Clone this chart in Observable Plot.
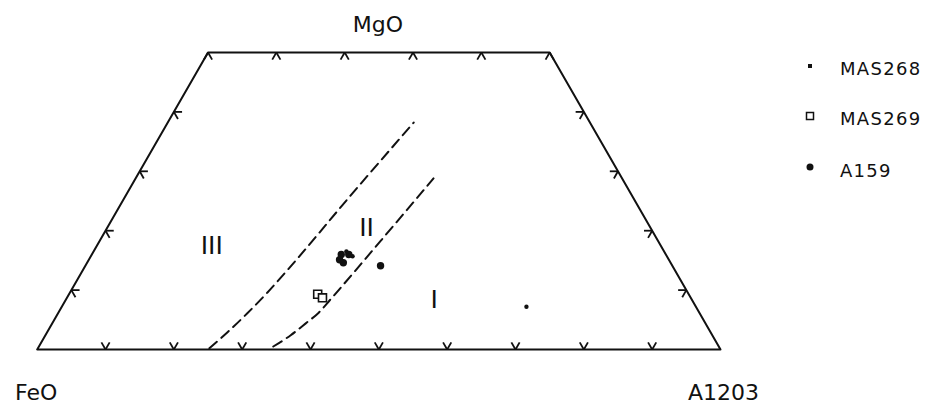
<!DOCTYPE html>
<html>
<head>
<meta charset="utf-8">
<script src="https://cdn.jsdelivr.net/npm/d3@7"></script>
<script src="https://cdn.jsdelivr.net/npm/@observablehq/plot@0.6"></script>
<style>
  body { margin: 0; background: #fff; }
  #wrap { position: relative; width: 933px; height: 405px; font-family: "DejaVu Sans", sans-serif; color: #111; }
  #chart { position: absolute; left: 0; top: 0; }
  .lg-mark { position: absolute; }
  .lg-label { position: absolute; left: 840px; font-size: 18px; line-height: 18px; letter-spacing: 1.3px; white-space: nowrap; }
</style>
</head>
<body>
<div id="wrap"><div id="chart"></div><div id="legend"></div></div>
<script>
// ---- Data (ternary percentages; FeO = 100 - MgO - Al2O3) ----
const apexLabels = ["FeO", "MgO", "A1203"];
const cutMgO = 50;                                   // diagram truncated at 50 % MgO
const bottomTicks = [10, 20, 30, 40, 50, 60, 70, 80, 90]; // Al2O3 % on FeO–Al2O3 base
const topTicks = [0, 10, 20, 30, 40, 50];                 // Al2O3 % along the MgO = 50 cut
const sideTicks = [10, 20, 30, 40];                       // MgO % on both sloping sides

const samples = ["MAS268", "MAS269", "A159"];
const mas268MgO = [16.5, 15.7, 7.2];
const mas268Al2O3 = [37.0, 38.3, 68.0];
const mas269MgO = [9.3, 8.7];
const mas269Al2O3 = [36.4, 37.4];
const a159MgO = [16.0, 16.0, 14.6, 15.1, 14.1];
const a159Al2O3 = [36.5, 37.6, 37.5, 36.7, 43.2];

const lineIIIIIMgO = [0.2, 2.9, 6.1, 9.6, 14.0, 25.9, 38.2];
const lineIIIIIAl2O3 = [25.1, 26.4, 27.7, 28.9, 30.1, 32.9, 36.0];
const lineIIIMgO = [0.5, 2.4, 4.4, 6.2, 8.4, 18.2, 28.8];
const lineIIIAl2O3 = [34.3, 35.9, 37.1, 38.1, 38.7, 41.1, 43.6];

const fieldLabels = ["III", "II", "I"];
const fieldMgO = [17.5, 20.4, 8.4];
const fieldAl2O3 = [16.8, 38.0, 53.9];

// ---- ternary -> cartesian (x = Al2O3 + MgO/2, y = MgO) ----
const P = (al, m) => ({x: al + m / 2, y: m});
const L = 1.2; // tick arm length in % units

const outline = [P(0, 0), P(100, 0), P(100 - cutMgO, cutMgO), P(0, cutMgO), P(0, 0)];

const seg = (a, b) => ({x1: a.x, y1: a.y, x2: b.x, y2: b.y});
const tickSegs = [];
for (const a of bottomTicks) {
  tickSegs.push(seg(P(a, 0), P(a, L)));
  tickSegs.push(seg(P(a, 0), P(a - L, L)));
}
for (const a of topTicks) {
  tickSegs.push(seg(P(a, cutMgO), P(a, cutMgO - L)));
  tickSegs.push(seg(P(a, cutMgO), P(a + L, cutMgO - L)));
}
for (const m of sideTicks) {
  tickSegs.push(seg(P(0, m), P(L, m)));
  tickSegs.push(seg(P(0, m), P(L, m - L)));
  const al = 100 - m;
  tickSegs.push(seg(P(al, m), P(al - L, m)));
  tickSegs.push(seg(P(al, m), P(al, m - L)));
}

const toPts = (ms, als) => ms.map((m, i) => P(als[i], m));
const lineA = toPts(lineIIIIIMgO, lineIIIIIAl2O3);
const lineB = toPts(lineIIIMgO, lineIIIAl2O3);
const pts268 = toPts(mas268MgO, mas268Al2O3);
const pts269 = toPts(mas269MgO, mas269Al2O3);
const pts159 = toPts(a159MgO, a159Al2O3);
const fields = fieldLabels.map((t, i) => ({...P(fieldAl2O3[i], fieldMgO[i]), t}));

const chart = Plot.plot({
  width: 933,
  height: 405,
  axis: null,
  x: {domain: [0, 100], range: [36.7, 720]},
  y: {domain: [0, 50], range: [349, 52]},
  style: {fontFamily: "DejaVu Sans, sans-serif", background: "white", color: "#111"},
  marks: [
    Plot.line(outline, {x: "x", y: "y", stroke: "#111", strokeWidth: 2}),
    Plot.link(tickSegs, {x1: "x1", y1: "y1", x2: "x2", y2: "y2", stroke: "#111", strokeWidth: 1.8}),
    Plot.line(lineA, {x: "x", y: "y", stroke: "#111", strokeWidth: 2, strokeDasharray: "10,6", curve: "monotone-x"}),
    Plot.line(lineB, {x: "x", y: "y", stroke: "#111", strokeWidth: 2, strokeDasharray: "10,6", curve: "monotone-x"}),
    Plot.dot(pts159, {x: "x", y: "y", r: 3.7, fill: "#111", stroke: "none"}),
    Plot.dot(pts268, {x: "x", y: "y", r: 2.2, fill: "#111", stroke: "none"}),
    Plot.dot(pts269, {x: "x", y: "y", symbol: "square", r: 4.5, fill: "white", stroke: "#111", strokeWidth: 1.6}),
    Plot.text(fields, {x: "x", y: "y", text: "t", fontSize: 25, fill: "#111"}),
    // apex labels
    Plot.text([apexLabels[0]], {x: 0, y: 0, text: d => d, fontSize: 22, dx: -1, dy: 43, fill: "#111"}),
    Plot.text([apexLabels[1]], {x: 50, y: cutMgO, text: d => d, fontSize: 22, dx: -1, dy: -28, fill: "#111"}),
    Plot.text([apexLabels[2]], {x: 100, y: 0, text: d => d, fontSize: 22, dx: 3, dy: 43, fill: "#111", letterSpacing: 1})
  ]
});
document.getElementById("chart").appendChild(chart);

// ---- legend (HTML, right side) ----
const legend = document.getElementById("legend");
const legendMarks = [
  `<svg width="10" height="10"><rect x="3" y="3" width="4" height="4" fill="#111"/></svg>`,
  `<svg width="10" height="10"><rect x="1.5" y="1.5" width="7" height="7" fill="white" stroke="#111" stroke-width="1.5"/></svg>`,
  `<svg width="10" height="10"><circle cx="5" cy="5" r="3.5" fill="#111"/></svg>`
];
const markY = [61, 111, 162];
const labelTop = [60, 110, 161.5];
samples.forEach((s, i) => {
  const m = document.createElement("div");
  m.className = "lg-mark";
  m.style.left = "805px";
  m.style.top = (markY[i] - 5) + "px";
  m.innerHTML = legendMarks[i];
  legend.appendChild(m);
  const t = document.createElement("div");
  t.className = "lg-label";
  t.style.top = labelTop[i] + "px";
  t.textContent = s;
  legend.appendChild(t);
});
</script>
</body>
</html>
